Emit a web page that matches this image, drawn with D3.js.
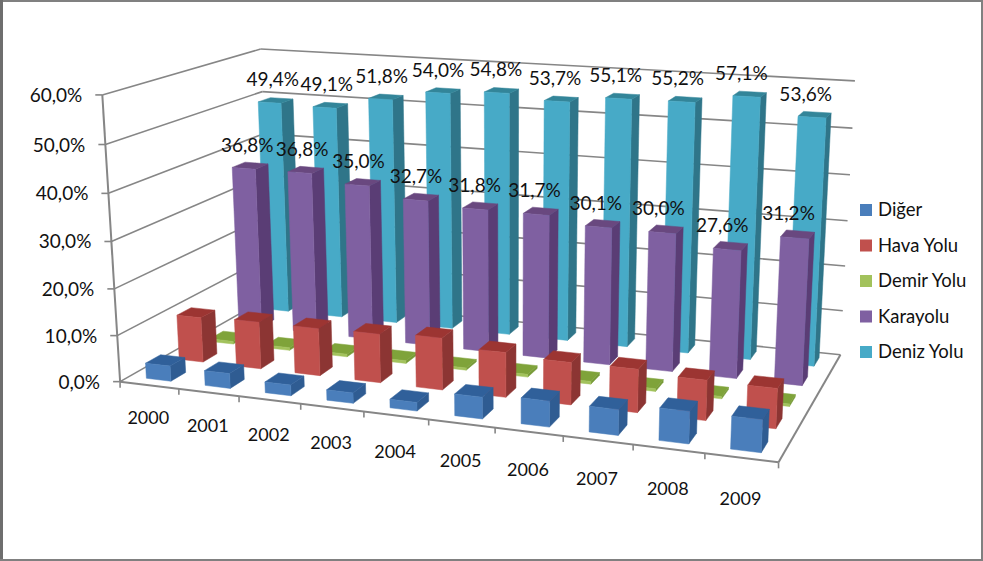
<!DOCTYPE html>
<html>
<head>
<meta charset="utf-8">
<script src="https://cdn.jsdelivr.net/npm/d3@7"></script>
<style>
  html, body { margin: 0; padding: 0; background: #fff; }
  svg { display: block; }
  text { font-family: Lato, "Open Sans", sans-serif; fill: #111; }
</style>
</head>
<body>
<div id="chart"></div>
<script>
// Data
var years = ["2000", "2001", "2002", "2003", "2004", "2005", "2006", "2007", "2008", "2009"];
var seriesNames = ["Diğer", "Hava Yolu", "Demir Yolu", "Karayolu", "Deniz Yolu"];
var diger = [3.3, 3.2, 2.3, 2.2, 1.8, 4.5, 5.3, 5.2, 6.5, 6.5];
var havaYolu = [9.9, 10.3, 10.3, 10.5, 11.1, 9.5, 8.9, 9.0, 8.3, 8.2];
var demirYolu = [0.6, 0.6, 0.6, 0.6, 0.5, 0.6, 0.6, 0.6, 0.5, 0.5];
var karayolu = [36.8, 36.8, 35.0, 32.7, 31.8, 31.7, 30.1, 30.0, 27.6, 31.2];
var denizYolu = [49.4, 49.1, 51.8, 54.0, 54.8, 53.7, 55.1, 55.2, 57.1, 53.6];
var yTicks = [0, 10, 20, 30, 40, 50, 60];

var seriesValues = [diger, havaYolu, demirYolu, karayolu, denizYolu];
var labelled = { "Karayolu": true, "Deniz Yolu": true };

// front, side and top colour of each series
var faceColors = [
  { front: "#4a7ebb", side: "#2f5c92", top: "#30609a" },
  { front: "#c0504d", side: "#8c3533", top: "#9c3532" },
  { front: "#a2c25c", side: "#779a38", top: "#7fa33a" },
  { front: "#7f60a1", side: "#5a3d75", top: "#69487f" },
  { front: "#47aac7", side: "#2f7589", top: "#338599" }
];

var svgWidth = 983;
var svgHeight = 561;

var svg = d3.select("#chart").append("svg")
  .attr("width", svgWidth)
  .attr("height", svgHeight);

svg.append("rect").attr("width", svgWidth).attr("height", svgHeight).attr("fill", "#fff");

// Scales work in the unit cube, the projection takes it to the screen
var xScale = d3.scaleBand().domain(years).range([0, 1]).paddingInner(0.58).paddingOuter(0.29);
var xOuter = d3.scaleLinear().domain([0, years.length]).range([0, 1]);
var yScale = d3.scaleLinear().domain([0, 60]).range([0, 1]);
var zScale = d3.scaleBand().domain(seriesNames).range([0, 1]).paddingInner(0.55).paddingOuter(0.275);

// Where the corners of the cube land: u along years, v up, w into the page
var anchors = [
  { cube: [0, 0, 0], screen: [119, 380] },
  { cube: [1, 0, 0], screen: [779, 463] },
  { cube: [0, 0, 1], screen: [271, 298] },
  { cube: [1, 0, 1], screen: [840, 354] },
  { cube: [0, 1, 0], screen: [103, 96] },
  { cube: [0, 1, 1], screen: [260, 48] },
  { cube: [1, 1, 1], screen: [855, 81] }
];

// Fit the 3x4 perspective matrix (least squares)
function fitProjection(points) {
  var rows = [], rhs = [];
  points.forEach(function(p) {
    var u = p.cube[0], v = p.cube[1], w = p.cube[2];
    var sx = p.screen[0] / 1000, sy = p.screen[1] / 1000;
    rows.push([u, v, w, 1, 0, 0, 0, 0, -sx * u, -sx * v, -sx * w]); rhs.push(sx);
    rows.push([0, 0, 0, 0, u, v, w, 1, -sy * u, -sy * v, -sy * w]); rhs.push(sy);
  });
  var n = 11;
  var m = d3.range(n).map(function(i) {
    var row = d3.range(n).map(function(j) {
      return d3.sum(rows, function(r) { return r[i] * r[j]; });
    });
    row.push(d3.sum(rows, function(r, k) { return r[i] * rhs[k]; }));
    return row;
  });
  for (var c = 0; c < n; c++) {
    var best = c;
    for (var r = c + 1; r < n; r++) if (Math.abs(m[r][c]) > Math.abs(m[best][c])) best = r;
    var t = m[c]; m[c] = m[best]; m[best] = t;
    for (var r2 = 0; r2 < n; r2++) {
      if (r2 === c) continue;
      var f = m[r2][c] / m[c][c];
      for (var k = c; k <= n; k++) m[r2][k] -= f * m[c][k];
    }
  }
  return m.map(function(row, i) { return row[n] / row[i]; });
}

var h = fitProjection(anchors);

function project(u, v, w) {
  var d = h[8] * u + h[9] * v + h[10] * w + 1;
  return [
    1000 * (h[0] * u + h[1] * v + h[2] * w + h[3]) / d,
    1000 * (h[4] * u + h[5] * v + h[6] * w + h[7]) / d
  ];
}

var line3d = d3.line();

function drawEdge(a, b, width) {
  svg.append("path")
    .attr("d", line3d([project(a[0], a[1], a[2]), project(b[0], b[1], b[2])]))
    .attr("stroke", "#868686")
    .attr("stroke-width", width || 1.6)
    .attr("fill", "none");
}

// Walls: gridlines on the left and back walls
yTicks.forEach(function(t) {
  var v = yScale(t);
  drawEdge([0, v, 0], [0, v, 1]);
  drawEdge([0, v, 1], [1, v, 1]);
});

// Floor edges and axis
drawEdge([0, 0, 0], [1, 0, 0], 2);
drawEdge([1, 0, 0], [1, 0, 1], 2);
drawEdge([0, 0, 0], [0, 1, 0], 2);

// y axis ticks and labels
var pctFormat = d3.formatLocale({
  decimal: ",", thousands: ".", grouping: [3], currency: ["", ""]
}).format(".1f");

yTicks.forEach(function(t) {
  var p = project(0, yScale(t), 0);
  svg.append("line")
    .attr("x1", p[0] - 7).attr("x2", p[0])
    .attr("y1", p[1]).attr("y2", p[1])
    .attr("stroke", "#868686").attr("stroke-width", 1.6);
  svg.append("text")
    .attr("x", p[0] - 20)
    .attr("y", p[1] + 7)
    .attr("text-anchor", "end")
    .style("font-size", "19px")
    .text(pctFormat(t) + "%");
});

// x axis ticks and labels
d3.range(years.length + 1).forEach(function(i) {
  var p = project(xOuter(i), 0, 0);
  svg.append("line")
    .attr("x1", p[0]).attr("x2", p[0])
    .attr("y1", p[1]).attr("y2", p[1] + 6)
    .attr("stroke", "#868686").attr("stroke-width", 1.6);
});

var labelDrop = d3.scaleLinear().domain([0, years.length - 1]).range([39, 47]);
years.forEach(function(year, i) {
  var p = project(xOuter(i + 0.5), 0, 0);
  svg.append("text")
    .attr("x", p[0] - 1)
    .attr("y", p[1] + labelDrop(i))
    .attr("text-anchor", "middle")
    .style("font-size", "18px")
    .text(year);
});

// Bars, painted back to front and left to right
function drawFace(corners, color) {
  svg.append("path")
    .attr("d", line3d(corners.map(function(c) { return project(c[0], c[1], c[2]); })) + "Z")
    .attr("fill", color)
    .attr("stroke", color)
    .attr("stroke-width", 0.5);
}

d3.range(seriesNames.length - 1, -1, -1).forEach(function(s) {
  var z0 = zScale(seriesNames[s]);
  var z1 = z0 + zScale.bandwidth();
  var col = faceColors[s];
  years.forEach(function(year, i) {
    var x0 = xScale(year);
    var x1 = x0 + xScale.bandwidth();
    var v = yScale(seriesValues[s][i]);
    drawFace([[x1, 0, z0], [x1, 0, z1], [x1, v, z1], [x1, v, z0]], col.side);
    drawFace([[x0, v, z0], [x1, v, z0], [x1, v, z1], [x0, v, z1]], col.top);
    drawFace([[x0, 0, z0], [x1, 0, z0], [x1, v, z0], [x0, v, z0]], col.front);
  });
});

// Data labels sit on top of everything
var labelShift = d3.scaleLinear().domain([0, years.length - 1]).range([-3, -9]);
seriesNames.forEach(function(name, s) {
  if (!labelled[name]) return;
  var z0 = zScale(name);
  years.forEach(function(year, i) {
    var v = yScale(seriesValues[s][i]);
    var p = project(xScale(year) + xScale.bandwidth() / 2, v, z0 + zScale.bandwidth() / 2);
    svg.append("text")
      .attr("x", p[0] + labelShift(i))
      .attr("y", p[1] - 14)
      .attr("text-anchor", "middle")
      .style("font-size", "19px")
      .text(pctFormat(seriesValues[s][i]) + "%");
  });
});

// Legend
var legendY = d3.scalePoint().domain(seriesNames).range([210, 352]);
seriesNames.forEach(function(name, s) {
  svg.append("rect")
    .attr("x", 860)
    .attr("y", legendY(name) - 6)
    .attr("width", 12)
    .attr("height", 12)
    .attr("fill", faceColors[s].front);
  svg.append("text")
    .attr("x", 878)
    .attr("y", legendY(name) + 6)
    .style("font-size", "18.5px")
    .text(name);
});

// Picture frame
svg.append("rect").attr("x", 0).attr("y", 0).attr("width", svgWidth).attr("height", 2).attr("fill", "#808080");
svg.append("rect").attr("x", 0).attr("y", 0).attr("width", 3).attr("height", svgHeight).attr("fill", "#6e6e6e");
svg.append("rect").attr("x", svgWidth - 2).attr("y", 0).attr("width", 2).attr("height", svgHeight).attr("fill", "#808080");
svg.append("rect").attr("x", 0).attr("y", svgHeight - 2).attr("width", svgWidth).attr("height", 2).attr("fill", "#808080");
</script>
</body>
</html>
